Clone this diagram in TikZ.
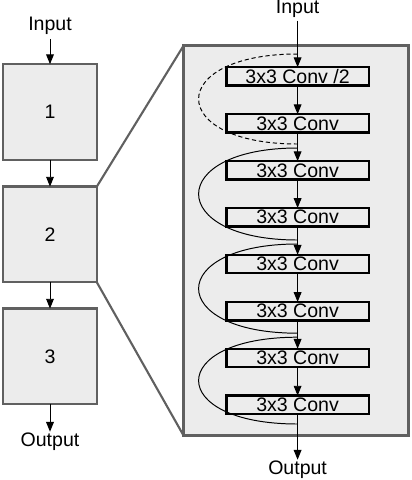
\documentclass[tikz,border=0pt]{standalone}
\usepackage{fontspec}
\setmainfont{Liberation Sans}
\usetikzlibrary{arrows.meta}
\definecolor{panelgray}{HTML}{ECECEC}
\definecolor{edgegray}{HTML}{606060}
\begin{document}
\begin{tikzpicture}[scale=1,inner sep=0pt,outer sep=0pt,line width=0.7pt,
>={Triangle[length=7pt,width=5.5pt]},font=\fontsize{13.9}{16}\selectfont,
stagebox/.style={draw=edgegray,fill=panelgray,rectangle,line width=1.8pt,minimum width=2.34cm,minimum height=2.39cm},
convblock/.style={draw,fill=panelgray,rectangle,line width=1.8pt,minimum width=3.56cm,minimum height=0.46cm},
skip/.style={line width=0.7pt}]
\useasboundingbox (0,0) rectangle (10.3,-12);
\draw (7.4,-6.015) node[draw=edgegray,fill=panelgray,line width=2.2pt,minimum width=5.62cm,minimum height=9.75cm] (zoom) {};

\draw (1.25,-0.65) node (in1) {Input};
\draw (1.25,-2.8) node[stagebox] (b1) {1};
\draw (1.25,-5.86) node[stagebox] (b2) {2};
\draw (1.25,-8.91) node[stagebox] (b3) {3};
\draw (1.25,-11.05) node (out1) {Output};
\draw[->,shorten <=3pt] (in1.south) -- (b1.north);
\draw[->] (b1.south) -- (b2.north);
\draw[->] (b2.south) -- (b3.north);
\draw[->,shorten >=1pt] (b3.south) -- (out1.north);
\draw[edgegray,line width=1.5pt] (b2.north east) -- (zoom.north west);
\draw[edgegray,line width=1.5pt] (b2.south east) -- (zoom.south west);

\draw (7.44,-0.225) node (in2) {Input};
\draw (7.44,-1.91) node[convblock] (c1) {3x3 Conv /2};
\draw (7.44,-3.085) node[convblock] (c2) {3x3 Conv};
\draw (7.44,-4.26) node[convblock] (c3) {3x3 Conv};
\draw (7.44,-5.43) node[convblock] (c4) {3x3 Conv};
\draw (7.44,-6.60) node[convblock] (c5) {3x3 Conv};
\draw (7.44,-7.78) node[convblock] (c6) {3x3 Conv};
\draw (7.44,-8.95) node[convblock] (c7) {3x3 Conv};
\draw (7.44,-10.12) node[convblock] (c8) {3x3 Conv};
\draw (7.44,-11.75) node (out2) {Output};
\draw[->,shorten <=2pt] (in2.south) -- (c1.north);
\draw[->] (c1) -- (c2);
\draw[->] (c2) -- (c3);
\draw[->] (c3) -- (c4);
\draw[->] (c4) -- (c5);
\draw[->] (c5) -- (c6);
\draw[->] (c6) -- (c7);
\draw[->] (c7) -- (c8);
\draw[->,shorten >=1pt] (c8.south) -- (out2.north);

\coordinate (s0) at (7.44,-1.35);
\coordinate (e0) at (7.44,-3.6);
\coordinate (s1) at (7.44,-3.7);
\coordinate (e1) at (7.44,-6.0);
\coordinate (s2) at (7.44,-6.1);
\coordinate (e2) at (7.44,-8.33);
\coordinate (s3) at (7.44,-8.43);
\coordinate (e3) at (7.44,-10.6);
\draw[skip,dash pattern=on 3pt off 2pt] (s0) .. controls +(-3.3,0) and +(-3.3,0) .. (e0);
\draw[skip] (s1) .. controls +(-3.3,0) and +(-3.3,0) .. (e1);
\draw[skip] (s2) .. controls +(-3.3,0) and +(-3.3,0) .. (e2);
\draw[skip] (s3) .. controls +(-3.3,0) and +(-3.3,0) .. (e3);
\end{tikzpicture}
\end{document}
